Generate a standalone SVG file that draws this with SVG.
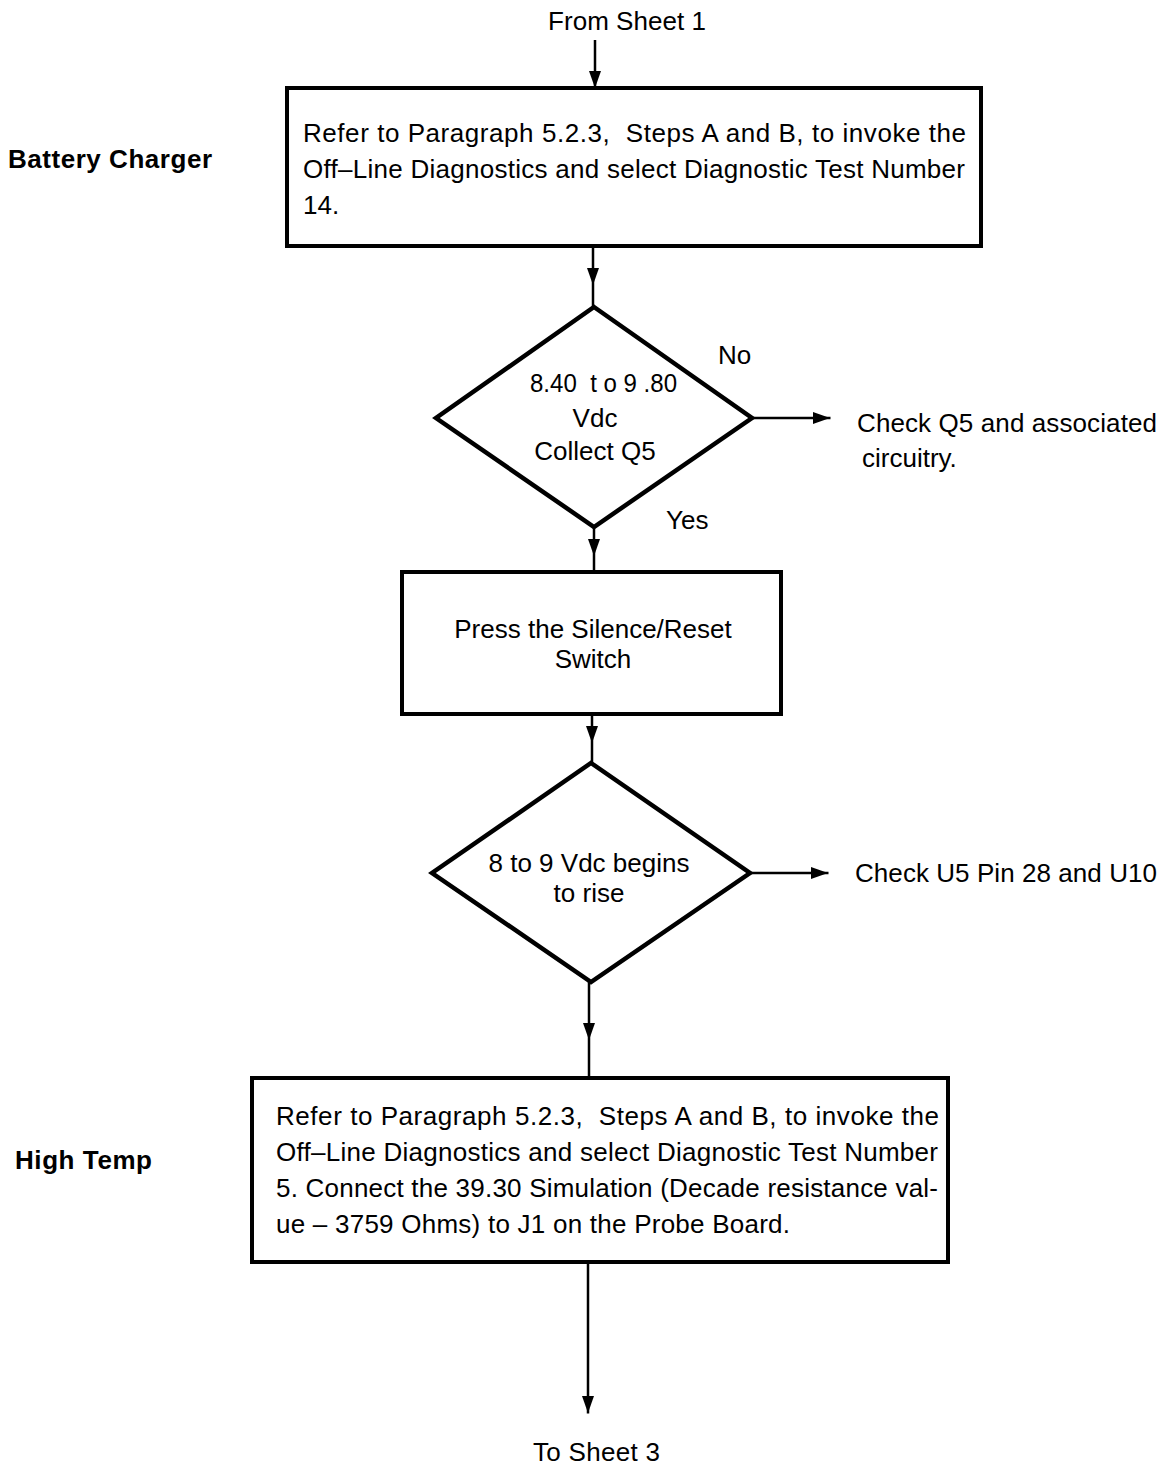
<svg xmlns="http://www.w3.org/2000/svg" width="1169" height="1467" viewBox="0 0 1169 1467">
  <style>
    .box { fill: #ffffff; stroke: #000000; stroke-width: 4; }
    .dia { fill: #ffffff; stroke: #000000; stroke-width: 4.5; stroke-linejoin: miter; }
    .wire { fill: none; stroke: #000000; stroke-width: 2.5; marker-mid: url(#head); }
    text { font-family: "Liberation Sans", Arial, sans-serif; font-size: 26px; fill: #000000; }
    .side { font-weight: bold; font-size: 26px; }
    .mid { text-anchor: middle; }
  </style>
  <defs>
    <marker id="head" viewBox="0 0 17 12" refX="17" refY="6" markerWidth="17" markerHeight="12" markerUnits="userSpaceOnUse" orient="auto">
      <path d="M0,0 L17,6 L0,12 Z" fill="#000000"/>
    </marker>
  </defs>

  <!-- section labels -->
  <text class="side" x="8" y="168" textLength="204">Battery Charger</text>
  <text class="side" x="15" y="1169" textLength="137">High Temp</text>

  <!-- off-sheet references -->
  <text x="548" y="30" textLength="158">From Sheet 1</text>
  <text x="533" y="1461" textLength="127">To Sheet 3</text>

  <!-- connectors -->
  <g id="connectors">
    <path class="wire" d="M595,40 L595,88 L595,88.5"/>
    <path class="wire" d="M593,246 L593,285 L593,307"/>
    <path class="wire" d="M594,527 L594,556 L594,572"/>
    <path class="wire" d="M592,714 L592,743 L592,763"/>
    <path class="wire" d="M589,982 L589,1040 L589,1078"/>
    <path class="wire" d="M588,1262 L588,1413 L588,1413.5"/>
    <path class="wire" d="M752,418 L830,418 L830.5,418"/>
    <path class="wire" d="M750,873 L828,873 L828.5,873"/>
  </g>

  <!-- step: select test 14 -->
  <g id="node-test14">
    <rect class="box" x="287" y="88" width="694" height="158"/>
    <text x="303" y="142" textLength="663" xml:space="preserve">Refer to Paragraph 5.2.3,  Steps A and B, to invoke the</text>
    <text x="303" y="178" textLength="662">Off–Line Diagnostics and select Diagnostic Test Number</text>
    <text x="303" y="214">14.</text>
  </g>

  <!-- decision: Q5 collector voltage -->
  <g id="node-q5">
    <polygon class="dia" points="594,307 752,418 594,527 436,418"/>
    <text x="530" y="392" textLength="147" lengthAdjust="spacingAndGlyphs" xml:space="preserve">8.40  t o 9 .80</text>
    <text class="mid" x="595" y="427">Vdc</text>
    <text class="mid" x="595" y="460">Collect Q5</text>
  </g>
  <text x="718" y="364">No</text>
  <text x="666" y="529">Yes</text>
  <g id="node-check-q5">
    <text x="857" y="432" textLength="300">Check Q5 and associated</text>
    <text x="862" y="467">circuitry.</text>
  </g>

  <!-- step: silence/reset -->
  <g id="node-reset">
    <rect class="box" x="402" y="572" width="379" height="142"/>
    <text class="mid" x="593" y="638">Press the Silence/Reset</text>
    <text class="mid" x="593" y="668">Switch</text>
  </g>

  <!-- decision: voltage rise -->
  <g id="node-rise">
    <polygon class="dia" points="591,763 750,873 591,982 432,873"/>
    <text class="mid" x="589" y="872">8 to 9 Vdc begins</text>
    <text class="mid" x="589" y="902">to rise</text>
  </g>
  <g id="node-check-u5">
    <text x="855" y="882" textLength="302">Check U5 Pin 28 and U10</text>
  </g>

  <!-- step: select test 5 -->
  <g id="node-test5">
    <rect class="box" x="252" y="1078" width="696" height="184"/>
    <text x="276" y="1125" textLength="663" xml:space="preserve">Refer to Paragraph 5.2.3,  Steps A and B, to invoke the</text>
    <text x="276" y="1161" textLength="662">Off–Line Diagnostics and select Diagnostic Test Number</text>
    <text x="276" y="1197" textLength="662">5. Connect the 39.30 Simulation (Decade resistance val-</text>
    <text x="276" y="1233" textLength="514">ue – 3759 Ohms) to J1 on the Probe Board.</text>
  </g>
</svg>
